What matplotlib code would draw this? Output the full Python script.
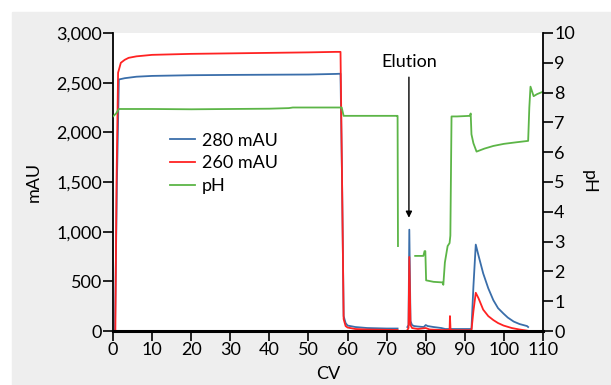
import numpy as np
import matplotlib.pyplot as plt
from matplotlib.patches import Rectangle
from matplotlib.ticker import FuncFormatter

nan = np.nan

# 280 nm absorbance trace
cv_280 = [0, 0.5, 1.0, 1.5, 3, 6, 10, 20, 30, 40, 50, 57, 58.2, 58.6, 59, 59.5, 60, 62, 65, 70, 72.8,
          nan, 75.3, 75.6, 75.8, 76.1, 76.5, 77, 78, 79.5, 80, 80.5, 82, 84, 85, 88, 91.7, 92.2, 92.8,
          93.5, 94.7, 96, 97.3, 98.5, 99.9, 101, 102.5, 104, 105.9, 106.2]
mau_280 = [0, 0, 1500, 2532, 2545, 2560, 2568, 2575, 2578, 2580, 2582, 2588, 2590, 1500, 150, 80, 55, 40, 30, 25, 25,
           nan, 40, 60, 1020, 100, 60, 50, 45, 40, 60, 50, 40, 30, 20, 20, 20, 450, 870,
           760, 580, 430, 310, 230, 175, 135, 95, 70, 50, 40]

# 260 nm absorbance trace
cv_260 = [0, 0.6, 0.9, 1.3, 2, 3, 4, 6, 10, 20, 30, 40, 50, 57, 58.2, 58.6, 59, 59.5, 60, 62, 65, 72.8,
          nan, 75.3, 75.6, 75.8, 76.1, 76.5, 78, 80, 81, 84, 86.1, 86.2, 86.35, 86.5, 88, 91.7, 92.2,
          92.8, 93.5, 94.7, 96, 97.3, 98.5, 99.9, 102, 104, 106]
mau_260 = [0, 0, 1500, 2600, 2700, 2730, 2750, 2765, 2780, 2790, 2795, 2800, 2805, 2810, 2810, 1500, 120, 50, 35, 20, 15, 10,
           nan, 10, 30, 745, 60, 30, 20, 30, 15, 10, 10, 150, 10, 10, 8, 8, 200,
           385, 330, 215, 150, 110, 80, 55, 30, 15, 3]

# pH trace
cv_ph = [0, 0.8, 1.5, 10, 20, 30, 40, 45, 46, 58, 58.5, 59, 65, 72.6, 72.8, 72.9,
         nan, 77.3, 79.4, 79.7, 79.9, 80.1, 82, 84.3, 84.5, 84.9, 85.6, 86.1, 86.3, 86.6, 88,
         91.3, 91.5, 91.7, 92.2, 93.0, 95, 97.3, 100, 103, 106.2, 106.5, 106.8, 107.6, 108.5, 110]
ph = [7.2, 7.3, 7.45, 7.45, 7.44, 7.45, 7.46, 7.48, 7.5, 7.5, 7.5, 7.22, 7.22, 7.22, 7.22, 2.85,
      nan, 2.52, 2.52, 2.68, 2.68, 1.7, 1.65, 1.63, 1.55, 2.3, 2.85, 2.95, 3.2, 7.2, 7.2,
      7.22, 7.3, 6.6, 6.3, 6.02, 6.12, 6.21, 6.28, 6.33, 6.38, 7.5, 8.2, 7.88, 7.95, 8.03]

plt.rcParams['font.family'] = ['Lato', 'DejaVu Sans']
plt.rcParams['font.size'] = 13

fig = plt.figure(figsize=(6.11, 3.85), dpi=100)
fig.patches.append(Rectangle((12 / 611, 0), 1, 1 - 12 / 385, transform=fig.transFigure,
                             color='#eeeeee', zorder=-10))
ax = fig.add_axes([113 / 611, 1 - 331 / 385, 430 / 611, 298 / 385])
ax2 = ax.twinx()

l1, = ax.plot(cv_280, mau_280, color='#3a6eaa', lw=1.3, label='280 mAU')
l2, = ax.plot(cv_260, mau_260, color='#ff2222', lw=1.3, label='260 mAU')
l3, = ax2.plot(cv_ph, ph, color='#5cb547', lw=1.3, label='pH')

ax.set_xlim(0, 110)
ax.set_ylim(0, 3000)
ax2.set_ylim(0, 10)
ax.set_xticks(range(0, 111, 10))
ax.set_yticks(range(0, 3001, 500))
ax2.set_yticks(range(0, 11))
ax.yaxis.set_major_formatter(FuncFormatter(lambda v, p: f'{int(v):,}'))

for a in (ax, ax2):
    a.spines['top'].set_visible(False)
    a.tick_params(length=7, width=1.2, pad=1, labelsize=13)
ax.spines['left'].set_linewidth(1.3)
ax2.spines['right'].set_linewidth(1.3)
ax2.spines['left'].set_visible(False)
ax.spines['right'].set_visible(False)
ax.spines['bottom'].set_linewidth(2.2)
ax2.spines['bottom'].set_visible(False)

ax.set_xlabel('CV', labelpad=6)
ax.set_ylabel('mAU', labelpad=10)
ax2.set_ylabel('pH', rotation=270, labelpad=16)

ax2.annotate('Elution', xy=(75.7, 3.8), xytext=(75.7, 8.75), ha='center', va='bottom', fontsize=13,
             arrowprops=dict(arrowstyle='-|>', color='black', lw=1, mutation_scale=9, shrinkA=3, shrinkB=0))

ax2.legend(handles=[l1, l2, l3], loc='upper left', bbox_to_anchor=(0.115, 0.69), frameon=False,
           handlelength=1.4, handletextpad=0.4, labelspacing=0.38, borderaxespad=0, fontsize=13)

fig.savefig('out.png', dpi=100)
